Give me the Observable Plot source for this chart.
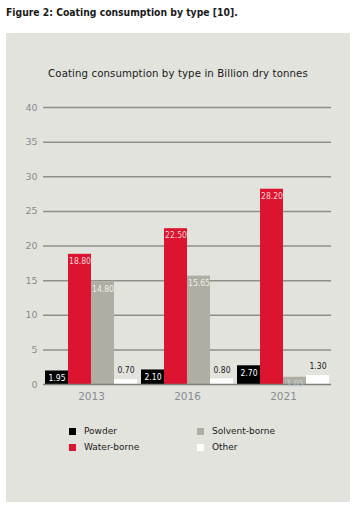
<!DOCTYPE html>
<html>
<head>
<meta charset="utf-8">
<script src="https://cdn.jsdelivr.net/npm/d3@7"></script>
<script src="https://cdn.jsdelivr.net/npm/@observablehq/plot@0.6"></script>
<style>
  body { margin: 0; background: #fff; font-family: "DejaVu Sans", sans-serif; }
  #fig { position: absolute; left: 6px; top: 6px; font-family: "DejaVu Sans Condensed", "DejaVu Sans", sans-serif; font-size: 10.3px; font-weight: bold; color: #1a1a1a; }
  #panel { position: absolute; left: 6px; top: 33px; width: 344px; height: 469px; background: #e3e3de; }
  #ctitle { position: absolute; left: 0; top: 35px; width: 344px; text-align: center; font-size: 10.2px; color: #1a1a1a; letter-spacing: 0.1px; }
  #chart { position: absolute; left: 0; top: 62px; }
  #legend { position: absolute; left: 0; top: 393px; width: 344px; font-size: 9px; color: #1a1a1a; }
  .item { position: absolute; display: flex; align-items: center; }
  .sw { width: 7px; height: 7px; margin-right: 8px; }
</style>
</head>
<body>
<div id="fig">Figure 2: Coating consumption by type [10].</div>
<div id="panel">
  <div id="ctitle">Coating consumption by type in Billion dry tonnes</div>
  <div id="chart"></div>
  <div id="legend"></div>
</div>
<script>
const years = ["2013", "2016", "2021"];
const types = ["Powder", "Water-borne", "Solvent-borne", "Other"];
const colors = ["#000000", "#dc1430", "#aeaea2", "#ffffff"];
const labelColors = ["#ffffff", "#f6d3d8", "#eeeeea", "#1a1a1a"];
const powder = [1.95, 2.10, 2.70];
const waterBorne = [18.80, 22.50, 28.20];
const solventBorne = [14.80, 15.65, 1.05];
const other = [0.70, 0.80, 1.30];
const yTicks = [0, 5, 10, 15, 20, 25, 30, 35, 40];

const series = [powder, waterBorne, solventBorne, other];
const data = [];
years.forEach((yr, i) => {
  types.forEach((t, j) => {
    data.push({year: yr, type: t, value: series[j][i], lc: (j === 2 && series[j][i] < 3) ? "#c8d4da" : labelColors[j], inside: j < 3});
  });
});

const labelFont = "DejaVu Sans Condensed, Liberation Sans Narrow, sans-serif";
const chart = Plot.plot({
  width: 344,
  height: 314,
  marginLeft: 37,
  marginRight: 19,
  marginTop: 12,
  marginBottom: 25,
  style: {background: "transparent", fontFamily: "DejaVu Sans, sans-serif"},
  fx: {domain: years, padding: 0, label: null, tickSize: 0, tickPadding: 8},
  x: {domain: types, paddingInner: 0, paddingOuter: 0.06, axis: null},
  y: {domain: [0, 40], ticks: yTicks, label: null, tickSize: 0, tickPadding: 6},
  color: {domain: types, range: colors},
  marks: [
    Plot.ruleY(yTicks.slice(1), {stroke: "#8f8f8a", strokeWidth: 1.5}),
    Plot.barY(data, {fx: "year", x: "type", y: "value", fill: "type"}),
    Plot.ruleY([0], {stroke: "#7f7f7a", strokeWidth: 1.5}),
    Plot.text(data.filter(d => d.inside), {fx: "year", x: "type", y: "value", text: d => d.value.toFixed(2), fill: "lc", dy: 7, fontSize: 8.5, fontFamily: labelFont}),
    Plot.text(data.filter(d => !d.inside), {fx: "year", x: "type", y: "value", text: d => d.value.toFixed(2), fill: "lc", dy: -9, fontSize: 8.5, fontFamily: labelFont})
  ]
});
chart.querySelectorAll("[aria-label='y-axis tick label'], [aria-label='fx-axis tick label']").forEach(g => {
  g.setAttribute("fill", "#868c90");
  g.setAttribute("font-size", g.getAttribute("aria-label").startsWith("y") ? "9.5" : "10.5");
  g.querySelectorAll("text").forEach(t => t.setAttribute("fill", "#868c90"));
});
document.getElementById("chart").appendChild(chart);

const legend = document.getElementById("legend");
const pos = [[63, 0], [63, 16], [191, 0], [191, 16]];
types.forEach((t, j) => {
  const it = document.createElement("div");
  it.className = "item";
  it.style.left = pos[j][0] + "px";
  it.style.top = pos[j][1] + "px";
  it.innerHTML = `<span class="sw" style="background:${colors[j]}"></span><span>${t}</span>`;
  legend.appendChild(it);
});
</script>
</body>
</html>
